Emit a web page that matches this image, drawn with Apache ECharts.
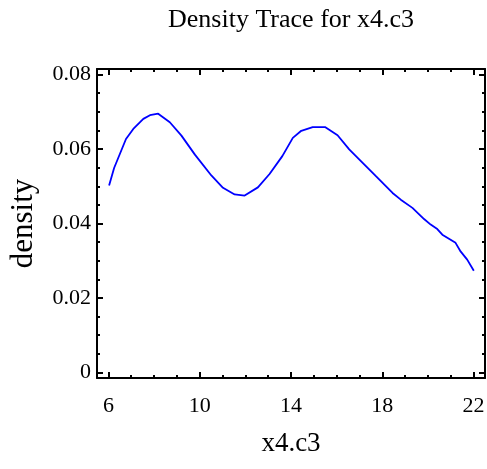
<!DOCTYPE html>
<html>
<head>
<meta charset="utf-8">
<script src="https://cdn.jsdelivr.net/npm/echarts@6/dist/echarts.min.js"></script>
<style>html,body{margin:0;padding:0;background:#fff}#c{width:487px;height:469px}</style>
</head>
<body>
<div id="c"></div>
<script>
const xValues = [6.03, 6.25, 6.77, 7.09, 7.53, 7.82, 8.18, 8.69, 9.2, 9.79, 10.51, 11.02, 11.53, 11.97, 12.55, 13.06, 13.62, 14.08, 14.45, 14.95, 15.49, 16.04, 16.55, 17.14, 17.72, 18.45, 18.81, 19.32, 19.83, 20.12, 20.41, 20.63, 21.21, 21.43, 21.72, 22.01];
const density = [0.0502, 0.0549, 0.0627, 0.0654, 0.0681, 0.0691, 0.0695, 0.0672, 0.0636, 0.0585, 0.0529, 0.0496, 0.0478, 0.0475, 0.0497, 0.0533, 0.0581, 0.0630, 0.0649, 0.0659, 0.0659, 0.0637, 0.0599, 0.0563, 0.0527, 0.0482, 0.0464, 0.0442, 0.0412, 0.0397, 0.0385, 0.0370, 0.0348, 0.0325, 0.0303, 0.0273];
const xMajorTicks = [6, 10, 14, 18, 22];
const xMinorTicks = [7, 8, 9, 11, 12, 13, 15, 16, 17, 19, 20, 21];
const yMajorTicks = [0, 0.02, 0.04, 0.06, 0.08];
const yMinorTicks = [0.005, 0.01, 0.015, 0.025, 0.03, 0.035, 0.045, 0.05, 0.055, 0.065, 0.07, 0.075];
const titleText = 'Density Trace for x4.c3';
const xName = 'x4.c3';
const yName = 'density';

const FONT = '"Liberation Serif", "DejaVu Serif", serif';
const X_MIN = 5.5, X_MAX = 22.5, Y_MIN = -0.0015, Y_MAX = 0.0815;
const lineStyle = {color: '#000', width: 2};

function xAx(pos, ticks, len, showLine, showLabel) {
  return {
    type: 'value', position: pos, min: X_MIN, max: X_MAX,
    axisLine: {show: showLine, onZero: false, lineStyle: lineStyle},
    axisTick: {show: true, inside: true, length: len, customValues: ticks, lineStyle: {color: '#000', width: 2}},
    axisLabel: {show: showLabel, customValues: ticks, margin: 17, color: '#000', fontFamily: FONT, fontSize: 22},
    splitLine: {show: false},
    name: showLabel ? xName : '', nameLocation: 'middle', nameGap: 52,
    nameTextStyle: {color: '#000', fontFamily: FONT, fontSize: 27}
  };
}
function yAx(pos, ticks, len, showLine, showLabel) {
  return {
    type: 'value', position: pos, min: Y_MIN, max: Y_MAX,
    axisLine: {show: showLine, onZero: false, lineStyle: lineStyle},
    axisTick: {show: true, inside: true, length: len, customValues: ticks, lineStyle: {color: '#000', width: 2}},
    axisLabel: {show: showLabel, customValues: ticks, margin: 6, color: '#000', fontFamily: FONT, fontSize: 22,
      formatter: v => (v === 0 ? '0' : v.toFixed(2))},
    splitLine: {show: false},
    name: showLabel ? yName : '', nameLocation: 'middle', nameGap: 58, nameRotate: 90,
    nameTextStyle: {color: '#000', fontFamily: FONT, fontSize: 31}
  };
}

const chart = echarts.init(document.getElementById('c'), null, {renderer: 'canvas'});
chart.setOption({
  animation: false,
  backgroundColor: '#fff',
  grid: {left: 97, right: 2, top: 69, bottom: 91, containLabel: false, outerBoundsMode: 'none'},
  graphic: [{
    type: 'text', x: 291, y: 7,
    style: {text: titleText, fill: '#000', font: '26px ' + FONT, textAlign: 'center', textVerticalAlign: 'top'}
  }],
  xAxis: [
    xAx('bottom', xMajorTicks, 6, true, true),
    xAx('bottom', xMinorTicks, 3, false, false),
    xAx('top', xMajorTicks, 6, true, false),
    xAx('top', xMinorTicks, 3, false, false)
  ],
  yAxis: [
    yAx('left', yMajorTicks, 6, true, true),
    yAx('left', yMinorTicks, 3, false, false),
    yAx('right', yMajorTicks, 6, true, false),
    yAx('right', yMinorTicks, 3, false, false)
  ],
  series: [{
    type: 'line', xAxisIndex: 0, yAxisIndex: 0,
    data: xValues.map((x, i) => [x, density[i]]),
    showSymbol: false, smooth: false,
    lineStyle: {color: '#0000ff', width: 1.8}
  }]
});
</script>
</body>
</html>
